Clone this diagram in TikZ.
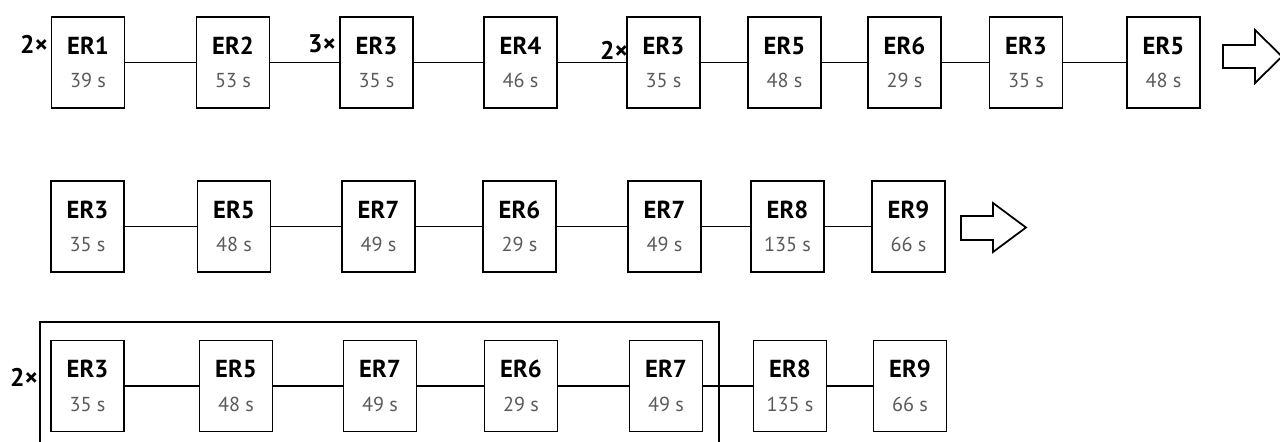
\documentclass[tikz,border=0pt]{standalone}
\usepackage{fontspec}
\setmainfont{PT Sans}
\usetikzlibrary{calc}
\definecolor{tempo}{RGB}{90,90,90}
\newcommand{\ertext}[2]{{\fontsize{14}{16}\selectfont\bfseries #1}\\[7pt]{\fontsize{11.5}{15}\selectfont\color{tempo}#2\ s}}

\begin{document}
\begin{tikzpicture}[x=0.02cm,y=-0.02cm,line width=1pt,
    blocco/.style={draw,minimum width=1.46cm,minimum height=1.82cm,inner sep=0pt,align=center},
    volte/.style={font=\fontsize{14.5}{16}\selectfont\bfseries,inner sep=0pt}]
  \clip (0,0) rectangle (1280,441);
  %prima riga
  \foreach \n/\x/\e/\tm in {1/88/ER1/39,2/233/ER2/53,3/376.5/ER3/35,4/520.5/ER4/46,5/663.5/ER3/35,6/784.5/ER5/48,7/904.5/ER6/29,8/1026/ER3/35,9/1163.5/ER5/48}
    \node[blocco] (a\n) at (\x,62.5) {\ertext{\e}{\tm}};
  \foreach \i [remember=\i as \p (initially 1)] in {2,...,9} \draw (a\p) -- (a\i);
  \node[volte] (m1) at (34,44) {2×};
  \node[volte] (m2) at (322,44) {3×};
  \node[volte] (m3) at (614,50) {2×};
  \draw (1223,45) -- (1255,45) -- (1255,30) -- (1282,56.5) -- (1255,83) -- (1255,68) -- (1223,68) -- cycle;
  %seconda riga
  \foreach \n/\x/\e/\tm in {1/87.5/ER3/35,2/234/ER5/48,3/378.5/ER7/49,4/519.5/ER6/29,5/664.5/ER7/49,6/787.5/ER8/135,7/908.5/ER9/66}
    \node[blocco] (b\n) at (\x,226.5) {\ertext{\e}{\tm}};
  \foreach \i [remember=\i as \p (initially 1)] in {2,...,7} \draw (b\p) -- (b\i);
  \draw (961,216) -- (993,216) -- (993,203) -- (1026,227.5) -- (993,252) -- (993,240) -- (961,240) -- cycle;
  %terza riga
  \foreach \n/\x/\e/\tm in {1/87.5/ER3/35,2/236/ER5/48,3/380/ER7/49,4/521/ER6/29,5/666/ER7/49,6/790/ER8/135,7/910/ER9/66}
    \node[blocco] (c\n) at (\x,386) {\ertext{\e}{\tm}};
  \foreach \i [remember=\i as \p (initially 1)] in {2,...,7} \draw (c\p) -- (c\i);
  \draw (40,322) rectangle (719,470);
  \node[volte] (m4) at (24,377) {2×};
\end{tikzpicture}
\end{document}
